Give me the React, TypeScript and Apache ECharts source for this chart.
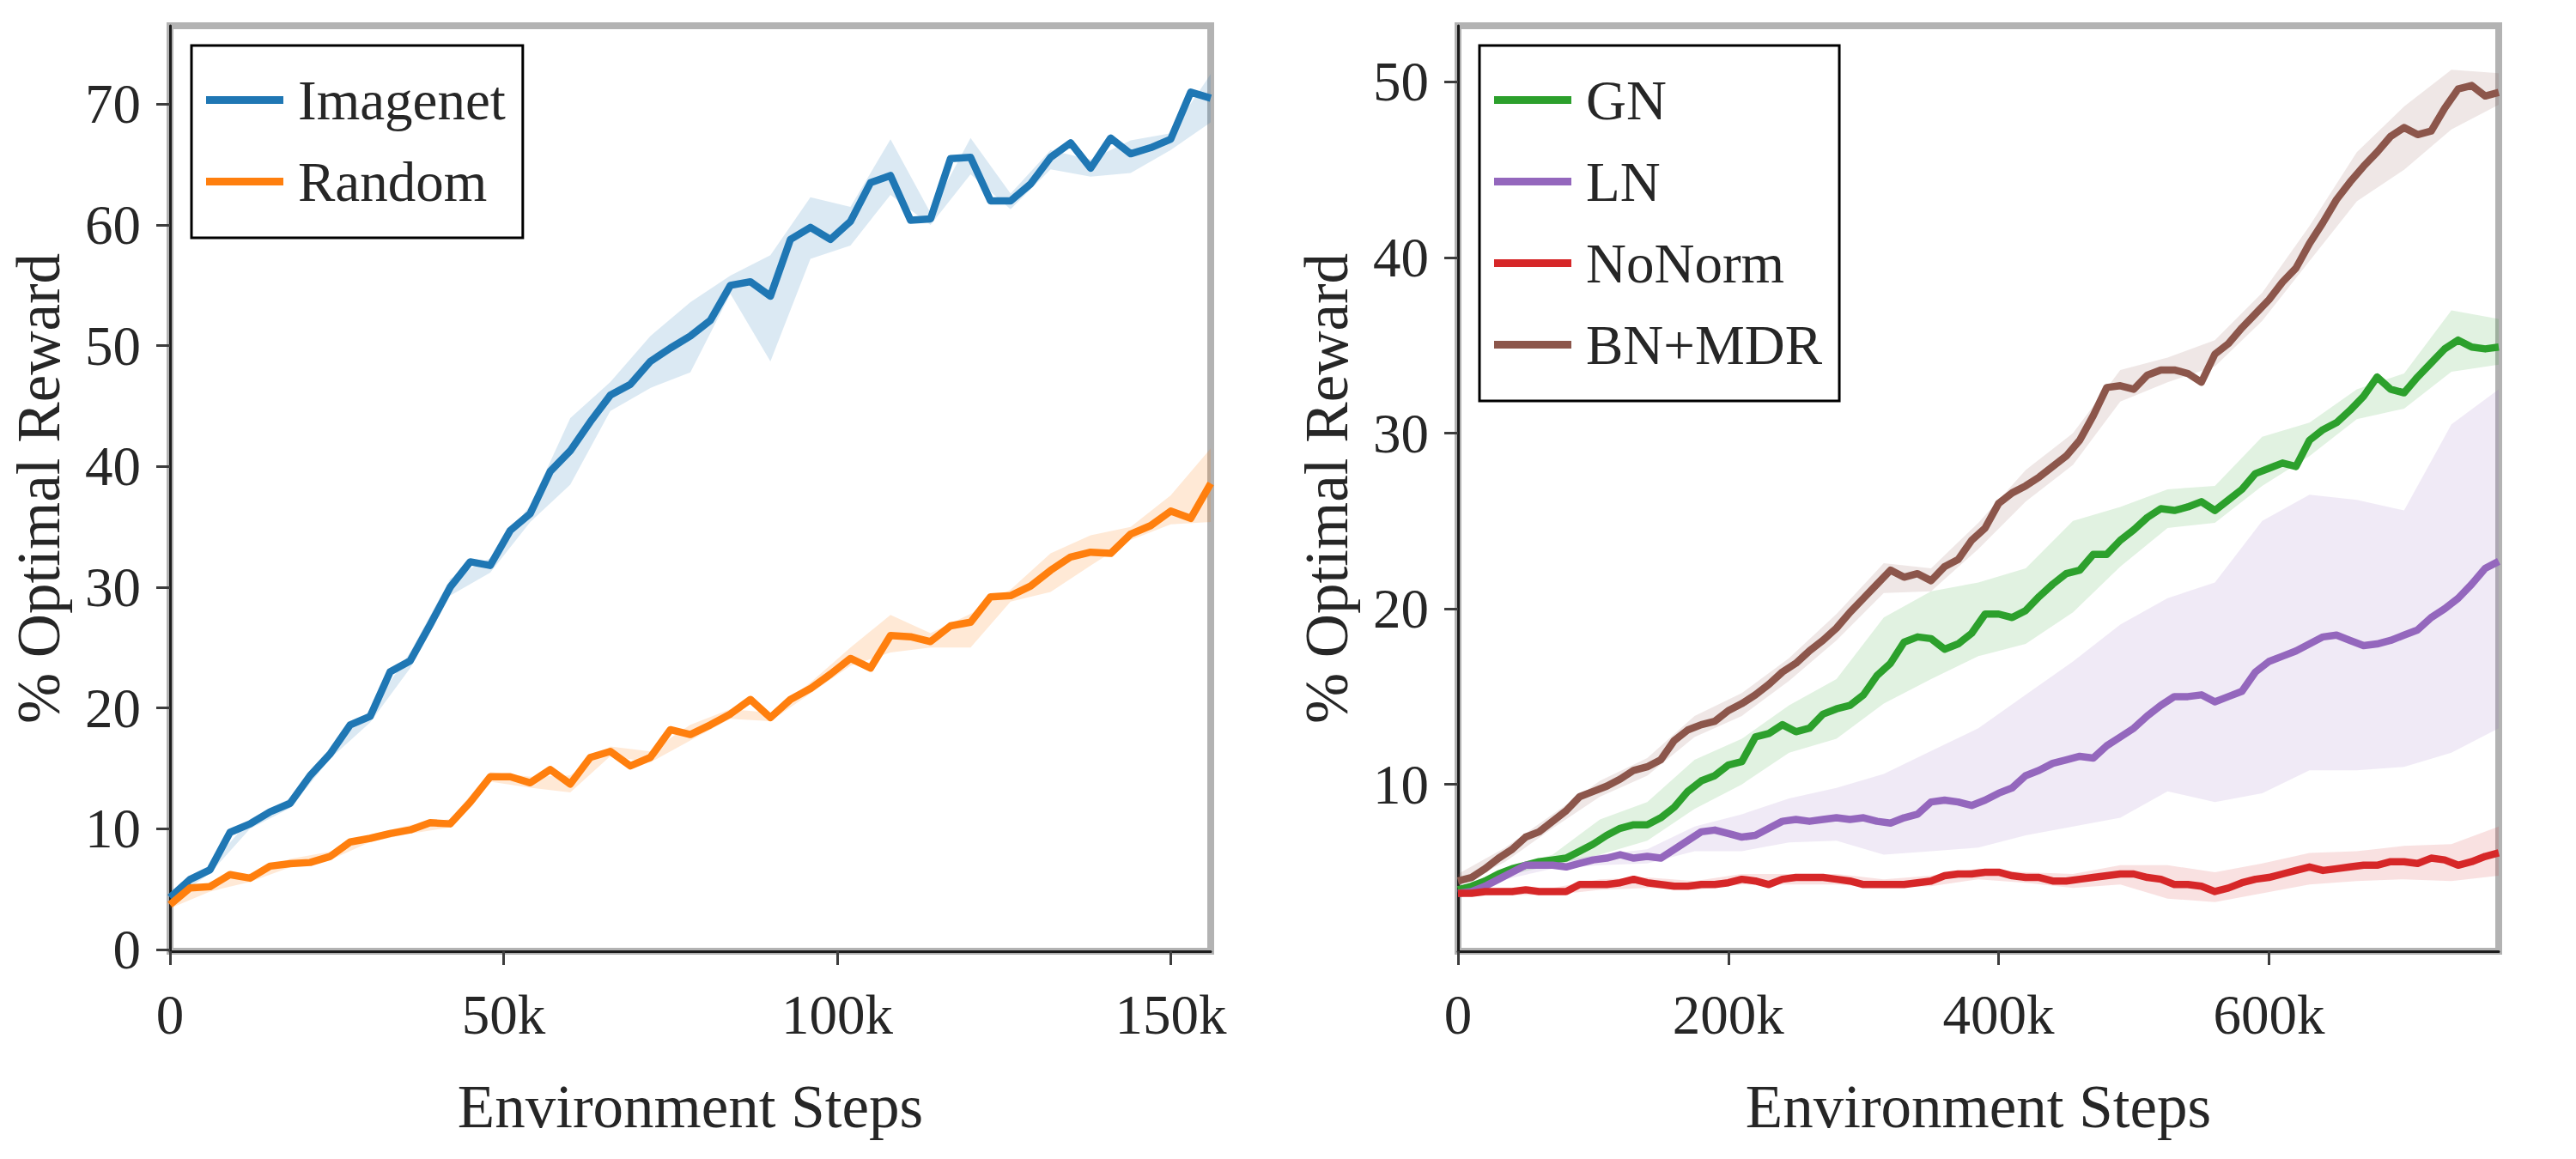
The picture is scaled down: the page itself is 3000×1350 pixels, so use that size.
import React, { useEffect, useRef } from "react";
import * as echarts from "echarts";

const FONT = "'Liberation Serif', 'Times New Roman', serif";
const TEXT = "#262626";

// ---------- Left panel data (x in thousands of steps) ----------
const leftStepsK = [0, 3, 6, 9, 12, 15, 18, 21, 24, 27, 30, 33, 36, 39, 42, 45, 48, 51, 54, 57, 60, 63, 66, 69, 72, 75, 78, 81, 84, 87, 90, 93, 96, 99, 102, 105, 108, 111, 114, 117, 120, 123, 126, 129, 132, 135, 138, 141, 144, 147, 150, 153, 156];
const imagenet = [4.3, 5.8, 6.6, 9.7, 10.4, 11.4, 12.1, 14.4, 16.2, 18.6, 19.3, 23.0, 23.9, 26.9, 30.0, 32.1, 31.8, 34.7, 36.1, 39.6, 41.3, 43.7, 45.9, 46.8, 48.7, 49.8, 50.8, 52.1, 55.0, 55.3, 54.1, 58.8, 59.8, 58.8, 60.3, 63.5, 64.1, 60.4, 60.5, 65.5, 65.6, 62.0, 62.0, 63.4, 65.6, 66.8, 64.7, 67.2, 65.9, 66.4, 67.1, 71.0, 70.5];
const random = [3.7, 5.1, 5.2, 6.2, 5.9, 6.9, 7.1, 7.2, 7.7, 8.9, 9.2, 9.6, 9.9, 10.5, 10.4, 12.2, 14.3, 14.3, 13.8, 14.9, 13.7, 15.9, 16.4, 15.2, 15.9, 18.2, 17.8, 18.6, 19.5, 20.7, 19.2, 20.7, 21.6, 22.8, 24.1, 23.3, 26.0, 25.9, 25.5, 26.8, 27.1, 29.2, 29.3, 30.1, 31.4, 32.5, 32.9, 32.8, 34.4, 35.1, 36.3, 35.7, 38.6];

const leftBandK = [0, 6, 12, 18, 24, 30, 36, 42, 48, 54, 60, 66, 72, 78, 84, 90, 96, 102, 108, 114, 120, 126, 132, 138, 144, 150, 156];
const imagenetLo = [4.0, 6.3, 10.0, 11.7, 15.8, 18.8, 23.3, 29.3, 31.2, 35.4, 38.5, 44.6, 46.5, 47.8, 54.3, 48.7, 57.2, 58.3, 62.5, 60.0, 64.2, 61.3, 64.6, 64.0, 64.3, 66.2, 68.5];
const imagenetUp = [4.6, 6.9, 10.8, 12.5, 16.6, 19.8, 24.6, 30.7, 32.4, 36.8, 44.0, 47.0, 50.8, 53.6, 55.8, 57.5, 62.3, 61.5, 67.1, 61.0, 67.2, 62.6, 66.2, 65.4, 67.0, 67.6, 72.5];
const randomLo = [3.4, 4.8, 5.6, 6.8, 7.4, 8.9, 9.6, 10.1, 13.9, 13.4, 13.0, 16.0, 15.5, 17.3, 19.1, 18.9, 21.2, 23.5, 24.6, 25.0, 25.0, 28.8, 29.6, 31.8, 33.9, 35.2, 35.4];
const randomUp = [4.1, 5.6, 6.3, 7.5, 8.1, 9.5, 10.3, 10.8, 14.7, 14.3, 14.4, 16.8, 16.4, 18.6, 19.9, 19.6, 22.1, 25.0, 27.7, 26.2, 27.8, 29.8, 32.8, 34.3, 35.0, 37.6, 41.5];

const leftXTicks = [0, 50000, 100000, 150000];
const leftYTicks = [0, 10, 20, 30, 40, 50, 60, 70];

// ---------- Right panel data ----------
const rightStepsK = [0, 10, 20, 30, 40, 50, 60, 70, 80, 90, 100, 110, 120, 130, 140, 150, 160, 170, 180, 190, 200, 210, 220, 230, 240, 250, 260, 270, 280, 290, 300, 310, 320, 330, 340, 350, 360, 370, 380, 390, 400, 410, 420, 430, 440, 450, 460, 470, 480, 490, 500, 510, 520, 530, 540, 550, 560, 570, 580, 590, 600, 610, 620, 630, 640, 650, 660, 670, 680, 690, 700, 710, 720, 730, 740, 750, 760, 770];
const gn = [4.0, 4.2, 4.5, 4.9, 5.2, 5.4, 5.6, 5.7, 5.8, 6.2, 6.6, 7.1, 7.5, 7.7, 7.7, 8.1, 8.7, 9.6, 10.2, 10.5, 11.1, 11.3, 12.7, 12.9, 13.4, 13.0, 13.2, 14.0, 14.3, 14.5, 15.1, 16.2, 16.9, 18.1, 18.4, 18.3, 17.7, 18.0, 18.6, 19.7, 19.7, 19.5, 19.9, 20.7, 21.4, 22.0, 22.2, 23.1, 23.1, 23.9, 24.5, 25.2, 25.7, 25.6, 25.8, 26.1, 25.6, 26.2, 26.8, 27.7, 28.0, 28.3, 28.1, 29.6, 30.2, 30.6, 31.3, 32.1, 33.2, 32.5, 32.3, 33.2, 34.0, 34.8, 35.3, 34.9, 34.8, 34.9];
const ln = [3.8, 3.9, 4.2, 4.6, 5.0, 5.4, 5.4, 5.4, 5.3, 5.5, 5.7, 5.8, 6.0, 5.8, 5.9, 5.8, 6.3, 6.8, 7.3, 7.4, 7.2, 7.0, 7.1, 7.5, 7.9, 8.0, 7.9, 8.0, 8.1, 8.0, 8.1, 7.9, 7.8, 8.1, 8.3, 9.0, 9.1, 9.0, 8.8, 9.1, 9.5, 9.8, 10.5, 10.8, 11.2, 11.4, 11.6, 11.5, 12.2, 12.7, 13.2, 13.9, 14.5, 15.0, 15.0, 15.1, 14.7, 15.0, 15.3, 16.4, 17.0, 17.3, 17.6, 18.0, 18.4, 18.5, 18.2, 17.9, 18.0, 18.2, 18.5, 18.8, 19.5, 20.0, 20.6, 21.4, 22.3, 22.7];
const noNorm = [3.8, 3.8, 3.9, 3.9, 3.9, 4.0, 3.9, 3.9, 3.9, 4.3, 4.3, 4.3, 4.4, 4.6, 4.4, 4.3, 4.2, 4.2, 4.3, 4.3, 4.4, 4.6, 4.5, 4.3, 4.6, 4.7, 4.7, 4.7, 4.6, 4.5, 4.3, 4.3, 4.3, 4.3, 4.4, 4.5, 4.8, 4.9, 4.9, 5.0, 5.0, 4.8, 4.7, 4.7, 4.5, 4.5, 4.6, 4.7, 4.8, 4.9, 4.9, 4.7, 4.6, 4.3, 4.3, 4.2, 3.9, 4.1, 4.4, 4.6, 4.7, 4.9, 5.1, 5.3, 5.1, 5.2, 5.3, 5.4, 5.4, 5.6, 5.6, 5.5, 5.8, 5.7, 5.4, 5.6, 5.9, 6.1];
const bnMdr = [4.5, 4.7, 5.2, 5.8, 6.3, 7.0, 7.3, 7.9, 8.5, 9.3, 9.6, 9.9, 10.3, 10.8, 11.0, 11.4, 12.5, 13.1, 13.4, 13.6, 14.2, 14.6, 15.1, 15.7, 16.4, 16.9, 17.6, 18.2, 18.9, 19.8, 20.6, 21.4, 22.2, 21.8, 22.0, 21.6, 22.4, 22.8, 23.9, 24.6, 26.0, 26.6, 27.0, 27.5, 28.1, 28.7, 29.6, 31.0, 32.6, 32.7, 32.5, 33.3, 33.6, 33.6, 33.4, 32.9, 34.5, 35.1, 36.0, 36.8, 37.6, 38.6, 39.4, 40.8, 42.0, 43.3, 44.3, 45.2, 46.0, 46.9, 47.4, 47.0, 47.2, 48.5, 49.6, 49.8, 49.2, 49.4];

const rightBandK = [0, 35, 70, 105, 140, 175, 210, 245, 280, 315, 350, 385, 420, 455, 490, 525, 560, 595, 630, 665, 700, 735, 770];
const gnLo = [3.9, 4.8, 5.4, 6.0, 6.8, 8.6, 10.0, 11.8, 12.6, 14.6, 16.0, 17.3, 18.0, 19.8, 22.4, 24.6, 24.9, 27.0, 28.7, 30.8, 31.4, 33.5, 33.9];
const gnUp = [4.1, 5.2, 6.0, 8.0, 9.0, 11.4, 12.6, 14.5, 16.0, 19.5, 21.0, 21.5, 22.3, 25.0, 25.8, 26.8, 27.0, 29.8, 30.6, 32.5, 33.4, 37.0, 36.5];
const lnLo = [3.6, 4.6, 5.2, 5.4, 5.5, 6.2, 6.2, 6.7, 6.8, 6.0, 6.2, 6.4, 7.1, 7.6, 8.1, 9.6, 9.0, 9.5, 10.8, 10.8, 11.0, 11.8, 13.2];
const lnUp = [4.0, 5.0, 5.6, 6.0, 6.3, 7.6, 8.3, 9.2, 9.8, 10.6, 11.9, 13.2, 15.1, 17.0, 19.1, 20.6, 21.5, 25.0, 26.5, 26.2, 25.6, 30.5, 32.5];
const noNormLo = [3.6, 3.7, 3.7, 4.0, 4.1, 4.0, 4.3, 4.3, 4.3, 4.1, 4.2, 4.6, 4.4, 4.1, 4.3, 3.5, 3.3, 3.8, 4.3, 4.5, 4.6, 4.5, 4.8];
const noNormUp = [4.0, 4.1, 4.1, 4.6, 4.7, 4.5, 4.9, 4.9, 4.9, 4.6, 4.8, 5.2, 5.0, 4.9, 5.4, 5.4, 5.0, 5.5, 6.1, 6.2, 6.5, 6.6, 7.6];
const bnMdrLo = [4.2, 5.6, 7.5, 9.3, 10.5, 12.7, 13.9, 15.9, 18.2, 20.9, 21.0, 23.4, 26.1, 28.2, 31.8, 32.9, 33.8, 36.4, 39.8, 43.2, 45.0, 47.3, 48.7];
const bnMdrUp = [4.9, 6.4, 8.3, 10.2, 11.5, 13.9, 15.2, 17.2, 19.7, 22.6, 22.3, 24.9, 27.9, 30.0, 33.6, 34.3, 35.3, 38.0, 41.8, 46.0, 48.6, 50.7, 50.5];

const rightXTicks = [0, 200000, 400000, 600000];
const rightYTicks = [10, 20, 30, 40, 50];

const COLORS = {
  Imagenet: "#1f77b4",
  Random: "#ff7f0e",
  GN: "#2ca02c",
  LN: "#9467bd",
  NoNorm: "#d62728",
  "BN+MDR": "#8c564b",
};

function hexToRgba(hex: string, a: number) {
  const n = parseInt(hex.slice(1), 16);
  return `rgba(${(n >> 16) & 255},${(n >> 8) & 255},${n & 255},${a})`;
}

function pairs(xsK: number[], ys: number[]) {
  return xsK.map((x, i) => [x * 1000, ys[i]]);
}

// Shaded band (fill_between) drawn as one polygon through the axis scales.
function bandSeries(name: string, xsK: number[], lo: number[], up: number[], color: string, axis: number, alpha: number) {
  const fill = hexToRgba(color, alpha);
  return {
    type: "custom",
    name: name + " band",
    xAxisIndex: axis,
    yAxisIndex: axis,
    data: [[xsK[0] * 1000, lo[0]]],
    encode: { x: 0, y: 1 },
    silent: true,
    clip: true,
    z: 1,
    renderItem: (_params: any, api: any) => {
      const top = xsK.map((x, i) => api.coord([x * 1000, up[i]]));
      const bottom = xsK.map((x, i) => api.coord([x * 1000, lo[i]])).reverse();
      return {
        type: "polygon",
        shape: { points: top.concat(bottom) },
        style: { fill, stroke: "none" },
      };
    },
  };
}

function lineSeries(name: string, xsK: number[], ys: number[], color: string, axis: number) {
  return {
    type: "line",
    name,
    xAxisIndex: axis,
    yAxisIndex: axis,
    data: pairs(xsK, ys),
    symbol: "none",
    showSymbol: false,
    lineStyle: { color, width: 8.5, join: "round", cap: "butt" },
    itemStyle: { color },
    z: 3,
  };
}

const kFormatter = (v: number) => (v === 0 ? "0" : `${Math.round(v / 1000)}k`);

function xAxisCfg(grid: number, max: number, ticks: number[]) {
  return {
    type: "value",
    gridIndex: grid,
    min: 0,
    max,
    splitLine: { show: false },
    axisLine: { show: true, onZero: false, lineStyle: { color: "#1c1c1c", width: 3 } },
    axisTick: { show: true, length: 16, customValues: ticks, lineStyle: { color: "#3d3d3d", width: 3 } },
    axisLabel: {
      customValues: ticks,
      formatter: kFormatter,
      fontFamily: FONT,
      fontSize: 65,
      color: TEXT,
      margin: 41,
    },
    name: "Environment Steps",
    nameLocation: "middle",
    nameGap: 145,
    nameTextStyle: { fontFamily: FONT, fontSize: 71, color: TEXT },
  };
}

function yAxisCfg(grid: number, min: number, max: number, ticks: number[]) {
  return {
    type: "value",
    gridIndex: grid,
    min,
    max,
    splitLine: { show: false },
    axisLine: { show: true, onZero: false, lineStyle: { color: "#1c1c1c", width: 3 } },
    axisTick: { show: true, length: 16, customValues: ticks, lineStyle: { color: "#3d3d3d", width: 3 } },
    axisLabel: {
      customValues: ticks,
      fontFamily: FONT,
      fontSize: 65,
      color: TEXT,
      margin: 34,
    },
    name: "% Optimal Reward",
    nameLocation: "middle",
    nameGap: 118,
    nameTextStyle: { fontFamily: FONT, fontSize: 71, color: TEXT },
  };
}

function legendCfg(left: number, names: string[]) {
  return {
    left,
    top: 53,
    orient: "vertical",
    data: names,
    icon: "rect",
    itemWidth: 90,
    itemHeight: 9,
    itemGap: 30,
    padding: [31, 20, 33, 17],
    backgroundColor: "#ffffff",
    borderColor: "#000000",
    borderWidth: 3,
    borderRadius: 0,
    selectedMode: false,
    itemStyle: { borderWidth: 0 },
    textStyle: {
      fontFamily: FONT,
      fontSize: 65,
      lineHeight: 65,
      color: TEXT,
      padding: [0, 0, 0, 12],
    },
  };
}

export default function App() {
  const ref = useRef<HTMLDivElement>(null);

  useEffect(() => {
    document.body.style.margin = "0";
    if (!ref.current) return;
    const chart = echarts.init(ref.current, null, { renderer: "svg" });

    const gridCommon = {
      top: 30,
      width: 1212,
      height: 1078,
      show: true,
      borderColor: "#b3b3b3",
      borderWidth: 8,
      backgroundColor: "transparent",
      containLabel: false,
    };

    const option = {
      animation: false,
      backgroundColor: "#ffffff",
      grid: [
        { ...gridCommon, left: 198 },
        { ...gridCommon, left: 1698 },
      ],
      xAxis: [xAxisCfg(0, 156000, leftXTicks), xAxisCfg(1, 770000, rightXTicks)],
      yAxis: [yAxisCfg(0, -0.15, 76.5, leftYTicks), yAxisCfg(1, 0.5, 53.2, rightYTicks)],
      legend: [legendCfg(223, ["Imagenet", "Random"]), legendCfg(1723, ["GN", "LN", "NoNorm", "BN+MDR"])],
      series: [
        bandSeries("Imagenet", leftBandK, imagenetLo, imagenetUp, COLORS.Imagenet, 0, 0.16),
        bandSeries("Random", leftBandK, randomLo, randomUp, COLORS.Random, 0, 0.17),
        bandSeries("GN", rightBandK, gnLo, gnUp, COLORS.GN, 1, 0.14),
        bandSeries("LN", rightBandK, lnLo, lnUp, COLORS.LN, 1, 0.14),
        bandSeries("NoNorm", rightBandK, noNormLo, noNormUp, COLORS.NoNorm, 1, 0.14),
        bandSeries("BN+MDR", rightBandK, bnMdrLo, bnMdrUp, COLORS["BN+MDR"], 1, 0.14),
        lineSeries("Imagenet", leftStepsK, imagenet, COLORS.Imagenet, 0),
        lineSeries("Random", leftStepsK, random, COLORS.Random, 0),
        lineSeries("GN", rightStepsK, gn, COLORS.GN, 1),
        lineSeries("LN", rightStepsK, ln, COLORS.LN, 1),
        lineSeries("NoNorm", rightStepsK, noNorm, COLORS.NoNorm, 1),
        lineSeries("BN+MDR", rightStepsK, bnMdr, COLORS["BN+MDR"], 1),
      ],
    };

    chart.setOption(option as any);
    return () => chart.dispose();
  }, []);

  return <div ref={ref} style={{ width: 3000, height: 1350 }} />;
}
